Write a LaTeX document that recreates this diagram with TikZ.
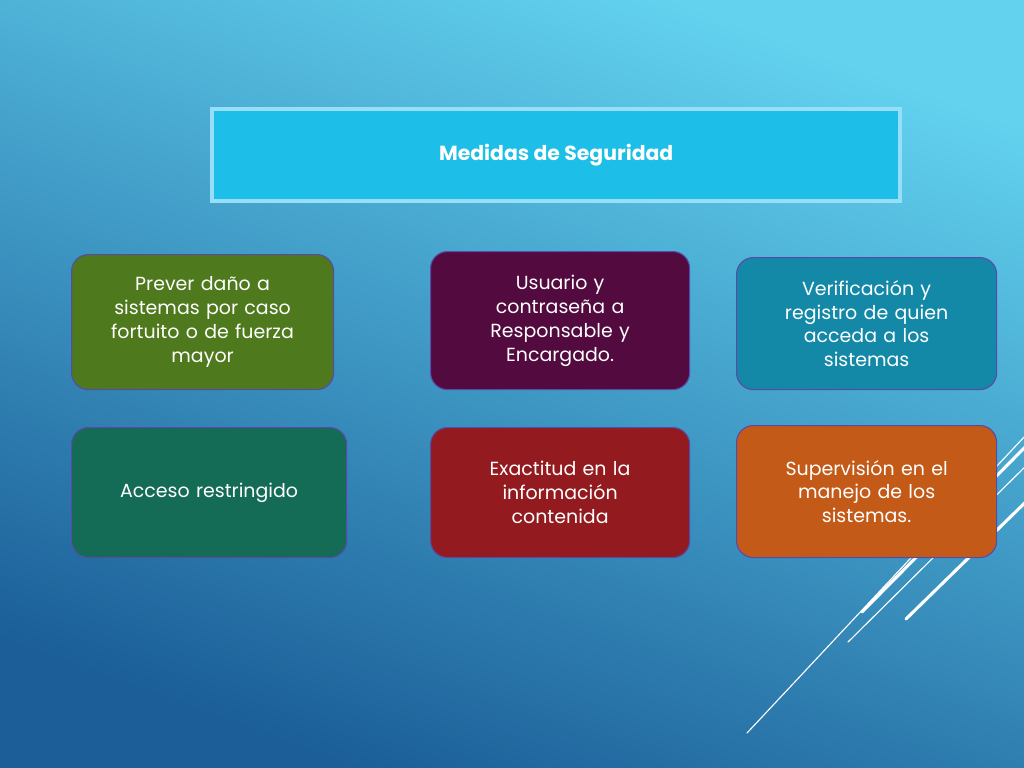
\documentclass[tikz,border=0pt]{standalone}
\usepackage{fontspec}
\setmainfont{Poppins}
\usetikzlibrary{positioning}
\definecolor{bgtop}{HTML}{62D2EF}
\definecolor{bgbot}{HTML}{1B5E98}
\definecolor{titlefill}{HTML}{1DBEE7}
\definecolor{edgeblue}{HTML}{5A4AA8}
\definecolor{cgreen}{HTML}{4E791C}
\definecolor{cpurple}{HTML}{520A3F}
\definecolor{cteal}{HTML}{1489A7}
\definecolor{cdkgreen}{HTML}{146B56}
\definecolor{cred}{HTML}{931B1F}
\definecolor{corange}{HTML}{C45A18}
\tikzset{
  measure/.style={draw=edgeblue, line width=0.8pt, rounded corners=12pt,
    text=white, align=center, font=\fontsize{13.5}{17}\selectfont,
    inner sep=0pt, anchor=north west},
  deco/.style={draw=white, line cap=round}
}
\begin{document}
\begin{tikzpicture}[x=0.025cm, y=-0.025cm]
\useasboundingbox (0,0) rectangle (1024,768);
% background
\shade[top color=bgtop, bottom color=bgbot, middle color=bgtop!50!bgbot,
  shading angle=-20] (0,0) rectangle (1024,768);
% decorative lines
\draw[deco, line width=0.8pt] (747,733) -- (1040,420);
\draw[deco, line width=2.2pt] (862,612) -- (1040,432);
\draw[deco, line width=0.8pt] (848,642) -- (1040,452);
\draw[deco, line width=2.2pt] (906,619) -- (1040,488);
% title
\node[draw=cyan!40, line width=3pt, fill=titlefill, minimum width=17.2cm,
  minimum height=2.3cm, anchor=north west, font=\bfseries\fontsize{14.5}{17}\selectfont,
  text=white] (title) at (210,107) {Medidas de Seguridad};
% measures
\node[measure, fill=cgreen, minimum width=6.55cm, minimum height=3.375cm, text width=5.8cm]
  (prever) at (71,254) {Prever daño a\\sistemas por caso\\fortuito o de fuerza\\mayor};
\node[measure, fill=cpurple, minimum width=6.475cm, minimum height=3.45cm, text width=5.8cm]
  (usuario) at (430,251) {Usuario y\\contraseña a\\Responsable y\\Encargado.};
\node[measure, fill=cteal, minimum width=6.5cm, minimum height=3.3cm, text width=5.8cm]
  (verif) at (736,257) {Verificación y\\registro de quien\\acceda a los\\sistemas};
\node[measure, fill=cdkgreen, minimum width=6.875cm, minimum height=3.25cm, text width=6.2cm]
  (acceso) at (71,427) {Acceso restringido};
\node[measure, fill=cred, minimum width=6.475cm, minimum height=3.25cm, text width=5.8cm]
  (exact) at (430,427) {Exactitud en la\\información\\contenida};
\node[measure, fill=corange, minimum width=6.5cm, minimum height=3.3cm, text width=5.8cm]
  (superv) at (736,425) {Supervisión en el\\manejo de los\\sistemas.};
\end{tikzpicture}
\end{document}
